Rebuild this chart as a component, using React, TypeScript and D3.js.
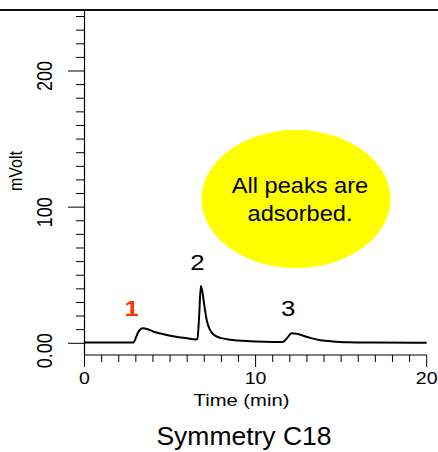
import React from "react";
import * as d3 from "d3";

const times = [0, 2.85, 3.0, 3.15, 3.4, 3.7, 4.0, 4.5, 5.0, 5.5, 6.0, 6.5, 6.6, 6.7, 6.8, 6.9, 7.0, 7.15, 7.3, 7.5, 7.8, 8.0, 8.5, 9.0, 10.0, 11.0, 11.6, 11.85, 12.1, 12.4, 12.8, 13.3, 13.8, 14.5, 15.5, 17, 20];
const mvolts = [0.5, 0.5, 4, 8.5, 11.0, 10.3, 8.7, 7.0, 5.5, 4.5, 3.7, 2.8, 3.2, 20, 42, 37, 28, 16.5, 10.8, 7.0, 4.6, 3.8, 2.6, 2.0, 1.3, 1.0, 1.0, 4, 7.3, 7.0, 5.5, 3.6, 2.3, 1.4, 0.8, 0.5, 0.4];

const xTickValues = d3.range(0, 21, 1);
const xMajor = [0, 10, 20];
const xLabels = ["0", "10", "20"];
const yTickValues = d3.range(0, 241, 10);
const yMajor = [0, 100, 200];
const yLabels = ["0.00", "100", "200"];

const peakLabels = ["1", "2", "3"];
const peakTimes = [2.75, 6.6, 11.9];
const peakLevels = [20, 54, 20];
const peakColors = ["#ff3300", "#000", "#000"];

const noteLines = ["All peaks are", "adsorbed."];
const xTitle = "Time (min)";
const yTitle = "mVolt";
const chartTitle = "Symmetry C18";

const FONT = "Arial, 'Liberation Sans', Helvetica, sans-serif";

export default function App() {
  const x = d3.scaleLinear().domain([0, 20]).range([84.5, 426.7]);
  const y = d3.scaleLinear().domain([0, 200]).range([343.3, 71]);
  const yTop = y(245);
  const yBottom = 355;
  const line = d3
    .line<number>()
    .x((_, i) => x(times[i]))
    .y((d) => y(d))
    .curve(d3.curveMonotoneX);

  return (
    <svg
      width={438}
      height={452}
      style={{ position: "absolute", left: 0, top: 0, background: "#fff" }}
      fontFamily={FONT}
    >
      {/* top border */}
      <line x1={0} x2={438} y1={10} y2={10} stroke="#111" strokeWidth={2} />
      {/* y axis */}
      <line x1={x(0)} x2={x(0)} y1={yTop} y2={yBottom} stroke="#000" strokeWidth={1.2} />
      {yTickValues.map((v) => (
        <line
          key={"yt" + v}
          x1={x(0) - (yMajor.includes(v) ? 16.5 : 8.5)}
          x2={x(0)}
          y1={y(v)}
          y2={y(v)}
          stroke="#000"
          strokeWidth={1}
        />
      ))}
      {yMajor.map((v, i) => (
        <text
          key={"yl" + v}
          transform={`translate(${51.5},${y(v) - 10}) scale(1.2,1) rotate(-90)`}
          textAnchor="end"
          fontSize={18}
          fill="#000"
        >
          {yLabels[i]}
        </text>
      ))}
      <text
        transform={`translate(${22},${171}) scale(1.1,1) rotate(-90)`}
        textAnchor="middle"
        fontSize={16}
        fill="#000"
      >
        {yTitle}
      </text>
      {/* x axis */}
      <line x1={x(0)} x2={x(20)} y1={yBottom} y2={yBottom} stroke="#000" strokeWidth={1.2} />
      {xTickValues.map((v) => (
        <line
          key={"xt" + v}
          x1={x(v)}
          x2={x(v)}
          y1={yBottom}
          y2={yBottom + (xMajor.includes(v) ? 12 : 7)}
          stroke="#000"
          strokeWidth={1}
        />
      ))}
      {xMajor.map((v, i) => (
        <text
          key={"xl" + v}
          transform={`translate(${x(v)},${383.5}) scale(1.22,1)`}
          textAnchor="middle"
          fontSize={16}
          fill="#000"
        >
          {xLabels[i]}
        </text>
      ))}
      <text
        transform={`translate(${241.5},${406}) scale(1.24,1)`}
        textAnchor="middle"
        fontSize={16.3}
        fill="#000"
      >
        {xTitle}
      </text>
      <text
        transform={`translate(${244},${445}) scale(1.06,1)`}
        textAnchor="middle"
        fontSize={25}
        fill="#000"
      >
        {chartTitle}
      </text>
      {/* trace */}
      <path d={line(mvolts) || ""} fill="none" stroke="#000" strokeWidth={2} strokeLinejoin="round" />
      {/* peak labels */}
      {peakLabels.map((s, i) => (
        <text
          key={"pk" + s}
          transform={`translate(${x(peakTimes[i])},${y(peakLevels[i])}) scale(1.2,1)`}
          textAnchor="middle"
          fontSize={21.5}
          fontWeight={i === 0 ? "bold" : "normal"}
          fill={peakColors[i]}
        >
          {s}
        </text>
      ))}
      {/* note ellipse */}
      <ellipse cx={296} cy={199} rx={94.5} ry={69} fill="#ffff00" />
      {noteLines.map((s, i) => (
        <text
          key={"nl" + i}
          transform={`translate(${300},${193.3 + i * 27.4}) scale(1.05,1)`}
          textAnchor="middle"
          fontSize={22.5}
          fill="#000"
        >
          {s}
        </text>
      ))}
    </svg>
  );
}
